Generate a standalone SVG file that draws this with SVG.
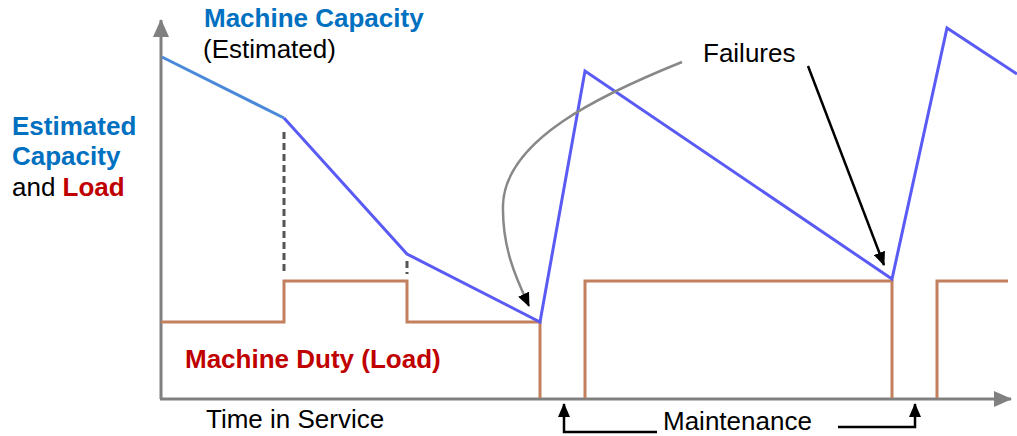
<svg xmlns="http://www.w3.org/2000/svg" width="1017" height="436" viewBox="0 0 1017 436">
<style>
text{font-family:"Liberation Sans",Arial,sans-serif;font-size:26px}
.b{font-weight:bold}
.blue{fill:#0070c0}
.red{fill:#c00000}
.blk{fill:#000}
.axis{stroke:#808080;stroke-width:3;fill:none}
.cap{stroke:#5a5af5;stroke-width:3;fill:none;stroke-linejoin:miter}
.load{stroke:#c4805e;stroke-width:3;fill:none}
.dash{stroke:#555;stroke-width:3;stroke-dasharray:7 4;fill:none}
</style>
<defs>
<marker id="ah" viewBox="0 0 14 12" refX="13" refY="6" markerWidth="14" markerHeight="12" markerUnits="userSpaceOnUse" orient="auto"><path d="M0,0 L14,6 L0,12 Z" fill="#000"/></marker>
<marker id="gah" viewBox="0 0 18 16" refX="17" refY="8" markerWidth="18" markerHeight="16" markerUnits="userSpaceOnUse" orient="auto"><path d="M0,0 L18,8 L0,16 Z" fill="#808080"/></marker>
<marker id="mah" viewBox="0 0 14 12" refX="13" refY="6" markerWidth="14" markerHeight="12" markerUnits="userSpaceOnUse" orient="auto"><path d="M0,0 L14,6 L0,12 Z" fill="#000"/></marker>
</defs>
<g id="axes">
<line class="axis" x1="161" y1="399" x2="161" y2="20" marker-end="url(#gah)"/>
<line class="axis" x1="160" y1="399" x2="1011" y2="399" marker-end="url(#gah)"/>
</g>
<g id="load-curve">
<polyline class="load" points="161,322 284,322 284,281 407,281 407,322 540,322 540,398"/>
<polyline class="load" points="585,398 585,281 892,281 892,398"/>
<polyline class="load" points="937,398 937,281 1008,281"/>
</g>
<g id="dashes">
<line class="dash" x1="284" y1="132" x2="284" y2="274"/>
<line class="dash" x1="407" y1="261" x2="407" y2="274"/>
</g>
<g id="capacity-curve">
<line x1="162" y1="57" x2="284" y2="118" stroke="#4a88d8" stroke-width="3"/>
<polyline class="cap" points="284,118 407,254 540,322 585,71 892,279 947,28 1017,74"/>
</g>
<g id="connectors">
<path d="M682,62 C600,95 505,140 503,205 C502,250 518,282 529,306" stroke="#888" stroke-width="2.5" fill="none" marker-end="url(#ah)"/>
<line x1="808" y1="66" x2="884" y2="265" stroke="#000" stroke-width="2.5" marker-end="url(#ah)"/>
<polyline points="657,432 564,432 564,404" stroke="#000" stroke-width="2.5" fill="none" marker-end="url(#mah)"/>
<polyline points="838,427 915,427 915,404" stroke="#000" stroke-width="2.5" fill="none" marker-end="url(#mah)"/>
</g>
<g id="label-machine-capacity">
<text class="b blue" x="204" y="27">Machine Capacity</text>
<text class="blk" x="203" y="58">(Estimated)</text>
</g>
<g id="label-y-axis">
<text class="b blue" x="12" y="135">Estimated</text>
<text class="b blue" x="12" y="165">Capacity</text>
<text x="12" y="196"><tspan class="blk">and </tspan><tspan class="b red">Load</tspan></text>
</g>
<g id="label-duty">
<text class="b red" x="185" y="368">Machine Duty (Load)</text>
</g>
<g id="label-time">
<text class="blk" x="206" y="428">Time in Service</text>
</g>
<g id="label-failures">
<text class="blk" x="703" y="62">Failures</text>
</g>
<g id="label-maintenance">
<text class="blk" x="663" y="430">Maintenance</text>
</g>
</svg>
